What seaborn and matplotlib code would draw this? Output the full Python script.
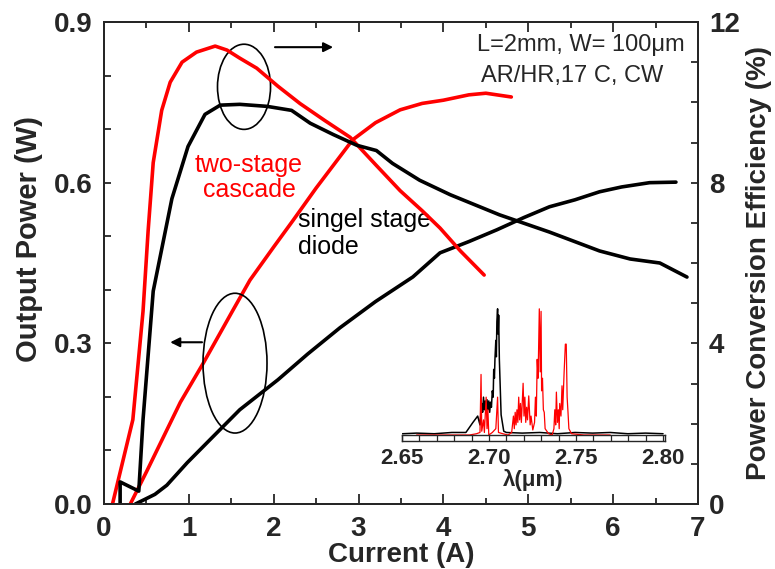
import matplotlib
matplotlib.use("Agg")
import matplotlib.pyplot as plt
from matplotlib.patches import Ellipse
from matplotlib.ticker import MultipleLocator, FormatStrFormatter
import seaborn as sns

# ---------------- data ----------------
# two-stage cascade: output power (left axis, W)
cur_two_pow = [0.31, 0.5, 0.7, 0.9, 1.17, 1.52, 1.72, 2.0, 2.23, 2.5, 2.93, 3.2, 3.49, 3.75, 4.0, 4.3, 4.5, 4.8]
pow_two = [0.0, 0.06, 0.125, 0.19, 0.263, 0.362, 0.418, 0.48, 0.53, 0.59, 0.68, 0.712, 0.736, 0.748, 0.754, 0.764, 0.767, 0.76]
# two-stage cascade: power conversion efficiency (right axis, %)
cur_two_eff = [0.1, 0.34, 0.46, 0.52, 0.58, 0.68, 0.78, 0.92, 1.09, 1.31, 1.45, 1.6, 1.8, 2.05, 2.31, 2.6, 2.9, 3.2, 3.49, 3.75, 3.96, 4.2, 4.48]
eff_two = [0.0, 2.1, 4.8, 6.8, 8.5, 9.8, 10.5, 11.0, 11.25, 11.4, 11.3, 11.1, 10.85, 10.4, 9.97, 9.55, 9.13, 8.45, 7.8, 7.3, 6.87, 6.3, 5.7]
# single stage diode: output power (left axis, W)
cur_one_pow = [0.37, 0.46, 0.6, 0.74, 0.98, 1.28, 1.6, 2.05, 2.4, 2.78, 3.2, 3.64, 3.96, 4.3, 4.63, 4.95, 5.25, 5.55, 5.84, 6.1, 6.43, 6.74]
pow_one = [0.0, 0.007, 0.018, 0.035, 0.077, 0.125, 0.176, 0.232, 0.28, 0.329, 0.378, 0.424, 0.469, 0.49, 0.512, 0.535, 0.555, 0.568, 0.583, 0.592, 0.6, 0.601]
# single stage diode: efficiency (right axis, %)
cur_one_eff = [0.19, 0.19, 0.41, 0.46, 0.58, 0.8, 0.99, 1.19, 1.37, 1.6, 1.92, 2.21, 2.43, 2.7, 2.98, 3.21, 3.4, 3.72, 4.08, 4.66, 5.25, 5.84, 6.2, 6.55, 6.87]
eff_one = [0.0, 0.55, 0.32, 2.1, 5.3, 7.6, 8.9, 9.7, 9.93, 9.95, 9.9, 9.8, 9.48, 9.2, 8.93, 8.8, 8.48, 8.06, 7.7, 7.2, 6.77, 6.3, 6.1, 6.0, 5.65]

# inset spectra (normalised intensity)
lam_one = [2.652, 2.66, 2.67, 2.68, 2.688, 2.690, 2.692, 2.6947, 2.696, 2.697, 2.6975, 2.698, 2.6985, 2.699, 2.6995,
           2.700, 2.7005, 2.701, 2.7015, 2.702, 2.7025, 2.703, 2.7035, 2.7038, 2.7042, 2.7045, 2.705, 2.7053, 2.7056,
           2.706, 2.7063, 2.7066, 2.707, 2.708, 2.7095, 2.711, 2.72, 2.73, 2.74, 2.75, 2.76, 2.77, 2.78, 2.79, 2.80]
int_one = [0.01, 0.015, 0.01, 0.02, 0.02, 0.06, 0.1, 0.15, 0.08, 0.25, 0.18, 0.3, 0.2, 0.27, 0.19,
           0.28, 0.2, 0.27, 0.18, 0.26, 0.22, 0.35, 0.3, 0.52, 0.45, 0.6, 0.75, 0.62, 0.9,
           1.0, 0.8, 0.95, 0.6, 0.16, 0.03, 0.02, 0.015, 0.02, 0.01, 0.02, 0.015, 0.02, 0.01, 0.015, 0.01]
lam_two = [2.660, 2.690, 2.694, 2.696, 2.6966, 2.697, 2.698, 2.6985, 2.6995, 2.700, 2.7005, 2.701, 2.703, 2.705, 2.706,
           2.7065, 2.709, 2.712, 2.714, 2.715, 2.7155, 2.716, 2.7165, 2.717, 2.7175, 2.718, 2.7185, 2.719, 2.7195,
           2.7205, 2.721, 2.7215, 2.722, 2.7225, 2.723, 2.7237, 2.7245, 2.725, 2.726, 2.727, 2.7275, 2.728, 2.7285,
           2.729, 2.7297, 2.7302, 2.7307, 2.731, 2.7315, 2.732, 2.7325, 2.733, 2.735, 2.737, 2.738, 2.7385, 2.739,
           2.7394, 2.740, 2.7405, 2.741, 2.7413, 2.742, 2.7426, 2.743, 2.7438, 2.7445, 2.745, 2.7455, 2.746, 2.7465,
           2.748, 2.755, 2.77]
int_two = [0.0, 0.0, 0.01, 0.02, 0.48, 0.03, 0.12, 0.02, 0.3, 0.05, 0.2, 0.0, 0.02, 0.05, 0.3,
           0.02, 0.01, 0.0, 0.02, 0.15, 0.05, 0.18, 0.08, 0.2, 0.1, 0.3, 0.12, 0.25, 0.1,
           0.41, 0.15, 0.3, 0.1, 0.22, 0.12, 0.31, 0.08, 0.15, 0.04, 0.1, 0.3, 0.15, 0.6,
           0.45, 1.0, 0.5, 0.98, 0.35, 0.45, 0.2, 0.18, 0.05, 0.01, 0.0, 0.05, 0.2, 0.08,
           0.34, 0.1, 0.2, 0.05, 0.25, 0.15, 0.39, 0.2, 0.5, 0.72, 0.72, 0.3, 0.18, 0.05,
           0.01, 0.0, 0.0]

x_ticks = [0, 1, 2, 3, 4, 5, 6, 7]
left_ticks = [0.0, 0.3, 0.6, 0.9]
right_ticks = [0, 4, 8, 12]
inset_ticks = [2.65, 2.70, 2.75, 2.80]

# ---------------- style ----------------
sns.set_theme(style="ticks")
plt.rcParams["font.family"] = ["Liberation Sans", "DejaVu Sans"]
plt.rcParams["axes.linewidth"] = 1.4
plt.rcParams["xtick.direction"] = "in"
plt.rcParams["ytick.direction"] = "in"

RED = "#ff0000"
fig = plt.figure(figsize=(7.75, 5.69), dpi=100)
ax = fig.add_axes([104 / 775, 1 - 504 / 569, 594 / 775, 482 / 569])
ax2 = ax.twinx()

LW = 2.6
sns.lineplot(x=cur_two_pow, y=pow_two, ax=ax, color=RED, lw=LW, estimator=None, sort=False)
sns.lineplot(x=cur_one_pow, y=pow_one, ax=ax, color="black", lw=LW, estimator=None, sort=False)
sns.lineplot(x=cur_two_eff, y=eff_two, ax=ax2, color=RED, lw=LW, estimator=None, sort=False)
sns.lineplot(x=cur_one_eff, y=eff_one, ax=ax2, color="black", lw=LW, estimator=None, sort=False)

ax.set_xlim(0, 7)
ax.set_ylim(0, 0.9)
ax2.set_ylim(0, 12)

ax.set_xticks(x_ticks)
ax.xaxis.set_minor_locator(MultipleLocator(0.5))
ax.set_yticks(left_ticks)
ax.yaxis.set_minor_locator(MultipleLocator(0.1))
ax.yaxis.set_major_formatter(FormatStrFormatter("%.1f"))
ax2.set_yticks(right_ticks)
ax2.yaxis.set_minor_locator(MultipleLocator(1))

for lab in ax.get_xticklabels() + ax.get_yticklabels() + ax2.get_yticklabels():
    lab.set_fontsize(20)
    lab.set_fontweight("bold")

ax.tick_params(axis="x", which="both", top=True, bottom=True, direction="in", width=1.3)
ax.tick_params(axis="x", which="major", length=7, pad=9)
ax.tick_params(axis="x", which="minor", length=4)
ax.tick_params(axis="y", which="both", left=True, right=False, direction="in", width=1.3, length=5)
ax.tick_params(axis="y", which="major", pad=8)
ax2.tick_params(axis="y", which="both", right=True, direction="in", width=1.3, length=5)
ax2.tick_params(axis="y", which="major", pad=8)

ax.set_xlabel("Current (A)", fontsize=20, fontweight="bold", labelpad=0)
ax.set_ylabel("Output Power (W)", fontsize=21, fontweight="bold", labelpad=8)
ax.yaxis.label.set_y(0.55)
ax2.set_ylabel("Power Conversion Efficiency (%)", fontsize=20, fontweight="bold", labelpad=4)

# annotations
ax.text(0.628, 0.952, "L=2mm, W= 100\u03bcm", transform=ax.transAxes, fontsize=17, ha="left", va="center")
ax.text(0.634, 0.888, "AR/HR,17 C, CW", transform=ax.transAxes, fontsize=17, ha="left", va="center")
ax.text(1.71, 0.61, "two-stage\ncascade", color=RED, fontsize=18, ha="center", va="center", linespacing=1.05)
ax.text(2.29, 0.505, "singel stage\ndiode", color="black", fontsize=18, ha="left", va="center", linespacing=1.12)

ax.add_patch(Ellipse((1.65, 0.779), 0.625, 0.159, fill=False, ec="black", lw=1.2, zorder=5))
ax.add_patch(Ellipse((1.544, 0.263), 0.754, 0.261, fill=False, ec="black", lw=1.2, zorder=5))
ax.annotate("", xy=(2.70, 0.853), xytext=(2.015, 0.853),
            arrowprops=dict(arrowstyle="-|>", color="black", lw=1.5, mutation_scale=14, shrinkA=0, shrinkB=0))
ax.annotate("", xy=(0.78, 0.302), xytext=(1.155, 0.302),
            arrowprops=dict(arrowstyle="-|>", color="black", lw=1.5, mutation_scale=14, shrinkA=0, shrinkB=0))

# ---------------- inset spectrum ----------------
lam_lo, lam_hi = 2.6517, 2.8011
axs = fig.add_axes([402 / 775, 1 - 435 / 569, 263 / 775, 135 / 569])
axs.patch.set_alpha(0)
sns.lineplot(x=lam_one, y=int_one, ax=axs, color="black", lw=1.1, estimator=None, sort=False)
sns.lineplot(x=lam_two, y=int_two, ax=axs, color=RED, lw=0.9, estimator=None, sort=False)
axs.set_xlim(lam_lo, lam_hi)
axs.set_ylim(0, 1.07)
axs.axis("off")

axb = fig.add_axes([402 / 775, 1 - 441 / 569, 263 / 775, 6 / 569])
axb.set_xlim(lam_lo, lam_hi)
axb.set_yticks([])
for s in axb.spines.values():
    s.set_linewidth(1.0)
axb.set_xticks(inset_ticks)
axb.set_xticklabels(["%.2f" % t for t in inset_ticks])
axb.xaxis.set_minor_locator(MultipleLocator(0.01))
axb.tick_params(axis="x", which="both", direction="in", length=4.3, width=0.9, top=False)
axb.tick_params(axis="x", which="major", pad=5, labelsize=16)
for lab in axb.get_xticklabels():
    lab.set_fontweight("bold")
axb.set_xlabel("\u03bb(\u03bcm)", fontsize=16, fontweight="bold", labelpad=0)

fig.savefig("out.png", dpi=100)
